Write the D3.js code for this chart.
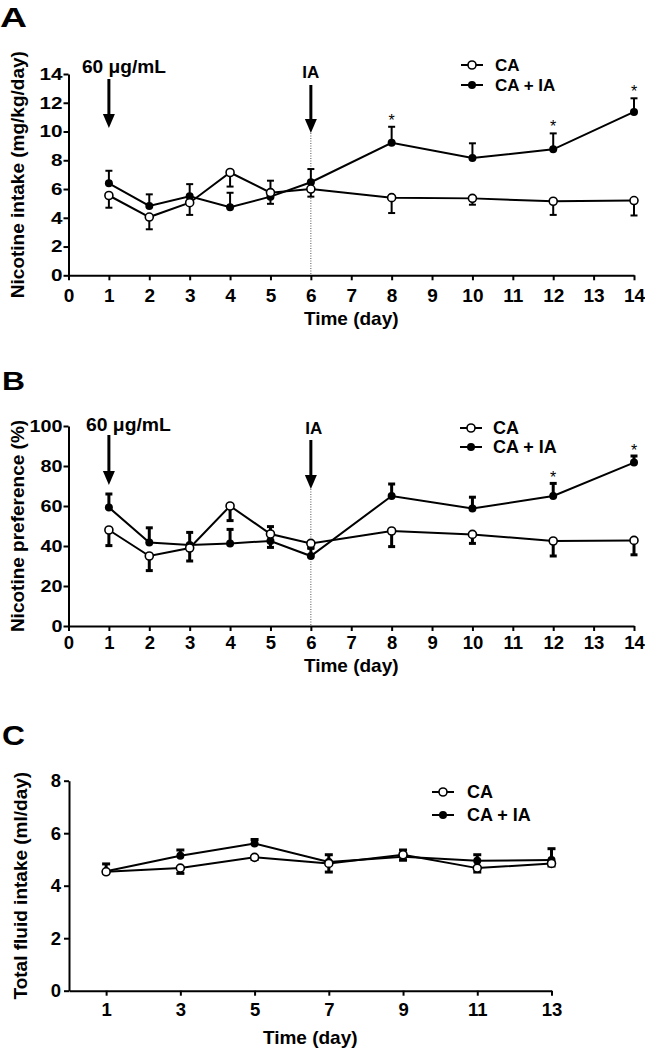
<!DOCTYPE html>
<html><head><meta charset="utf-8">
<script src="https://cdn.jsdelivr.net/npm/d3@7"></script>
<style>
body{margin:0;background:#fff;}
svg{display:block;font-family:"Liberation Sans",Arial,sans-serif;font-weight:bold;}
</style></head><body>
<svg id="chart" width="645" height="1050"></svg>
<script>
// ---------- data ----------
const seriesNames = ["CA", "CA + IA"];
const daysAB = [1, 2, 3, 4, 5, 6, 8, 10, 12, 14];
const xTicksAB = [0, 1, 2, 3, 4, 5, 6, 7, 8, 9, 10, 11, 12, 13, 14];

// Panel A: nicotine intake (mg/kg/day)
const intakeCA     = [5.55, 4.05, 5.05, 7.15, 5.75, 6.0, 5.4, 5.35, 5.15, 5.2];
const intakeCAErr  = [0.85, 0.85, 0.85, 0.98, 0.78, 0.53, 1.07, 0.44, 0.95, 1.04];
const intakeIA     = [6.4, 4.82, 5.5, 4.73, 5.47, 6.47, 9.22, 8.16, 8.76, 11.36];
const intakeIAErr  = [0.87, 0.81, 0.84, 1.01, 1.11, 0.92, 1.11, 1.02, 1.11, 0.95];
const yTicksA = [0, 2, 4, 6, 8, 10, 12, 14];
const sigDaysA = [8, 12, 14];

// Panel B: nicotine preference (%)
const prefCA    = [48, 35, 39, 60, 46, 41.3, 47.5, 45.8, 42.5, 42.8];
const prefCAErr = [7.8, 7.3, 6.5, 7.3, 6.7, 2, 7.8, 4.5, 7.5, 7.2];
const prefIA    = [59.3, 41.8, 40.5, 41.3, 42.5, 35, 65, 58.7, 65, 81.7];
const prefIAErr = [6.7, 7.3, 6.3, 7, 7.2, 3.8, 6, 5.7, 6.3, 3.3];
const yTicksB = [0, 20, 40, 60, 80, 100];
const sigDaysB = [12, 14];

// Panel C: total fluid intake (ml/day)
const daysC = [1, 3, 5, 7, 9, 11, 13];
const fluidCA    = [4.53, 4.67, 5.08, 4.85, 5.18, 4.67, 4.85];
const fluidCAErr = [0.05, 0.2, 0.08, 0.33, 0.21, 0.15, 0.1];
const fluidIA    = [4.55, 5.14, 5.61, 4.9, 5.1, 4.95, 4.98];
const fluidIAErr = [0.28, 0.22, 0.15, 0.28, 0.26, 0.23, 0.43];
const yTicksC = [0, 2, 4, 6, 8];

const annotDose = "60 \u03bcg/mL";
const annotIA = "IA";

// ---------- drawing ----------
const svg = d3.select("#chart");

function drawPanel(o) {
  const g = svg.append("g");
  const x = d3.scaleLinear().domain(o.xDomain).range([o.left, o.right]);
  const y = d3.scaleLinear().domain(o.yDomain).range([o.bottom, o.top]);

  // panel letter
  g.append("text").attr("x", o.letterX).attr("y", o.letterY)
    .attr("font-size", o.letterFs).attr("textLength", o.letterW)
    .attr("lengthAdjust", "spacingAndGlyphs").text(o.letter);

  // axes
  const xa = g.append("g").attr("transform", `translate(0,${o.bottom})`)
    .call(d3.axisBottom(x).tickValues(o.xTicks).tickFormat(d3.format("d"))
      .tickSize(5).tickSizeOuter(0).tickPadding(o.xPad));
  const ya = g.append("g").attr("transform", `translate(${o.left},0)`)
    .call(d3.axisLeft(y).tickValues(o.yTicks).tickFormat(d3.format("d"))
      .tickSize(5).tickSizeOuter(0).tickPadding(o.yPad));
  [xa, ya].forEach(a => {
    a.select(".domain").attr("stroke", "#000").attr("stroke-width", 2);
    a.selectAll(".tick line").attr("stroke", "#000").attr("stroke-width", 2);
    a.selectAll(".tick text").attr("fill", "#000")
      .attr("font-family", '"Liberation Sans",Arial,sans-serif').attr("font-weight", "bold");
  });
  xa.selectAll(".tick text").attr("font-size", o.xTickFs);
  ya.selectAll(".tick text").attr("font-size", o.yTickFs);
  if (o.yDigitW) {
    ya.selectAll(".tick text")
      .attr("textLength", d => String(d).length * o.yDigitW)
      .attr("lengthAdjust", "spacingAndGlyphs");
  }

  // axis titles
  g.append("text").attr("x", (o.left + o.right) / 2).attr("y", o.xTitleY)
    .attr("text-anchor", "middle").attr("font-size", o.titleFs).text("Time (day)");
  g.append("text")
    .attr("transform", `translate(${o.yTitleX},${(o.top + o.bottom) / 2}) rotate(-90)`)
    .attr("text-anchor", "middle").attr("font-size", o.titleFs).text(o.yTitle);

  // annotations (arrows + dotted line)
  (o.arrows || []).forEach(a => {
    const ax = x(a.day);
    g.append("line").attr("x1", ax).attr("x2", ax)
      .attr("y1", o.top + a.from).attr("y2", o.top + a.to - 12)
      .attr("stroke", "#000").attr("stroke-width", 3);
    g.append("path")
      .attr("d", `M${ax - 6},${o.top + a.to - 14}L${ax + 6},${o.top + a.to - 14}L${ax},${o.top + a.to}Z`)
      .attr("fill", "#000");
    const t = g.append("text").attr("x", ax + a.tdx).attr("y", o.top + a.ty)
      .attr("text-anchor", a.anchor).attr("font-size", a.fs).text(a.label);
    if (a.w) t.attr("textLength", a.w).attr("lengthAdjust", "spacingAndGlyphs");
    if (a.dotted) {
      g.append("line").attr("x1", ax).attr("x2", ax)
        .attr("y1", o.top + a.to).attr("y2", o.bottom)
        .attr("stroke", "#555").attr("stroke-width", 1).attr("stroke-dasharray", "1,1.5");
    }
  });

  const line = d3.line().x(d => x(d.day)).y(d => y(d.v));
  const sCA = o.days.map((d, i) => ({ day: d, v: o.ca[i], e: o.caErr[i] }));
  const sIA = o.days.map((d, i) => ({ day: d, v: o.ia[i], e: o.iaErr[i] }));

  [sCA, sIA].forEach(s => {
    g.append("path").datum(s).attr("d", line).attr("fill", "none")
      .attr("stroke", "#000").attr("stroke-width", 2);
  });

  // error bars: CA downward, CA + IA upward
  function errBars(s, dir) {
    const eg = g.append("g").attr("stroke", "#000").attr("stroke-width", o.errW);
    s.forEach(p => {
      const ye = y(p.v + dir * p.e);
      eg.append("line").attr("x1", x(p.day)).attr("x2", x(p.day))
        .attr("y1", y(p.v)).attr("y2", ye);
      eg.append("line").attr("x1", x(p.day) - o.capW).attr("x2", x(p.day) + o.capW)
        .attr("y1", ye).attr("y2", ye);
    });
  }
  errBars(sIA, 1);
  errBars(sCA, -1);

  // markers
  g.append("g").selectAll("circle").data(sIA).join("circle")
    .attr("cx", d => x(d.day)).attr("cy", d => y(d.v)).attr("r", 4)
    .attr("fill", "#000");
  g.append("g").selectAll("circle").data(sCA).join("circle")
    .attr("cx", d => x(d.day)).attr("cy", d => y(d.v)).attr("r", 4)
    .attr("fill", "#fff").attr("stroke", "#000").attr("stroke-width", 1.6);

  // significance stars
  (o.sig || []).forEach(day => {
    const p = sIA.find(q => q.day === day);
    g.append("text").attr("x", x(day)).attr("y", y(p.v + p.e) - o.starGap + 9)
      .attr("text-anchor", "middle").attr("font-size", 16).attr("font-weight", "normal")
      .text("*");
  });

  // legend
  const L = o.legend;
  seriesNames.forEach((name, i) => {
    const ly = L.y + i * L.dy;
    g.append("line").attr("x1", L.x - 11).attr("x2", L.x + 11).attr("y1", ly).attr("y2", ly)
      .attr("stroke", "#000").attr("stroke-width", 2);
    const c = g.append("circle").attr("cx", L.x).attr("cy", ly).attr("r", 4);
    if (i === 0) c.attr("fill", "#fff").attr("stroke", "#000").attr("stroke-width", 1.6);
    else c.attr("fill", "#000");
    g.append("text").attr("x", L.x + L.tdx).attr("y", ly).attr("dy", "0.36em")
      .attr("font-size", L.fs).text(name);
  });
}

drawPanel({
  letter: "A", letterX: 0, letterY: 27, letterFs: 28, letterW: 27,
  left: 68.5, right: 634, top: 74, bottom: 275.3,
  xDomain: [0, 14], yDomain: [0, 14], xTicks: xTicksAB, yTicks: yTicksA,
  xPad: 8, yPad: 1, xTickFs: 19, yTickFs: 16.5, yDigitW: 11.5, titleFs: 19,
  xTitleY: 325, yTitleX: 24,
  yTitle: "Nicotine intake (mg/kg/day)",
  days: daysAB, ca: intakeCA, caErr: intakeCAErr, ia: intakeIA, iaErr: intakeIAErr,
  sig: sigDaysA, starGap: 10, errW: 2, capW: 3.5,
  arrows: [
    { day: 1, from: 5, to: 54, label: annotDose, tdx: -27, ty: -1, fs: 18, anchor: "start", w: 84, dotted: false },
    { day: 6, from: 11, to: 59, label: annotIA, tdx: 0, ty: 4, fs: 17, anchor: "middle", dotted: true }
  ],
  legend: { x: 472, y: 65, dy: 20, tdx: 23, fs: 17 }
});

drawPanel({
  letter: "B", letterX: 2, letterY: 390, letterFs: 26, letterW: 23,
  left: 68.5, right: 634, top: 426, bottom: 626,
  xDomain: [0, 14], yDomain: [0, 100], xTicks: xTicksAB, yTicks: yTicksB,
  xPad: 5, yPad: 1, xTickFs: 18.5, yTickFs: 16.5, yDigitW: 11, titleFs: 19,
  xTitleY: 672, yTitleX: 24,
  yTitle: "Nicotine preference (%)",
  days: daysAB, ca: prefCA, caErr: prefCAErr, ia: prefIA, iaErr: prefIAErr,
  sig: sigDaysB, starGap: 9.5, errW: 3, capW: 3.5,
  arrows: [
    { day: 1, from: 9, to: 59, label: annotDose, tdx: -23, ty: 5, fs: 18, anchor: "start", w: 85, dotted: false },
    { day: 6, from: 14, to: 63, label: annotIA, tdx: 3, ty: 8, fs: 17, anchor: "middle", dotted: true }
  ],
  legend: { x: 471, y: 428, dy: 19, tdx: 22, fs: 18 }
});

drawPanel({
  letter: "C", letterX: 2, letterY: 745, letterFs: 28, letterW: 23,
  left: 69, right: 551.5, top: 780.7, bottom: 990.7,
  xDomain: [0, 13], yDomain: [0, 8], xTicks: daysC, yTicks: yTicksC,
  xPad: 7, yPad: 3, xTickFs: 18.5, yTickFs: 18.5, yDigitW: 0, titleFs: 19,
  xTitleY: 1044, yTitleX: 27,
  yTitle: "Total fluid intake (ml/day)",
  days: daysC, ca: fluidCA, caErr: fluidCAErr, ia: fluidIA, iaErr: fluidIAErr,
  sig: [], starGap: 10, errW: 3, capW: 4,
  arrows: [],
  legend: { x: 443, y: 792, dy: 23, tdx: 24, fs: 18 }
});
</script>
</body></html>
